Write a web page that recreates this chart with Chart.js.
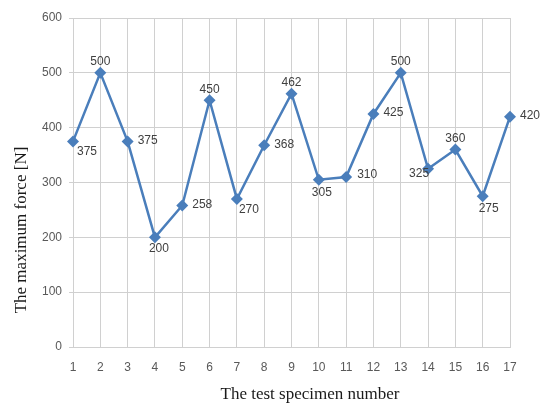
<!DOCTYPE html>
<html>
<head>
<meta charset="utf-8">
<script src="https://cdn.jsdelivr.net/npm/chart.js@4"></script>
<style>
  html, body { margin: 0; padding: 0; background: #fff; }
  #wrap { width: 540px; height: 405px; }
</style>
</head>
<body>
<div id="wrap"><canvas id="chart" width="540" height="405"></canvas></div>
<script>
// Chart data
const specimens = ['1', '2', '3', '4', '5', '6', '7', '8', '9', '10', '11', '12', '13', '14', '15', '16', '17'];
const maxForce = [375, 500, 375, 200, 258, 450, 270, 368, 462, 305, 310, 425, 500, 325, 360, 275, 420];
const yTicks = [0, 100, 200, 300, 400, 500, 600];
const xTitle = 'The test specimen number';
const yTitle = 'The maximum force [N]';

// where each value label sits relative to its marker: [dx, dy, align]
const labelPlacement = [
  [4, 10, 'left'], [0, -11, 'center'], [10, -1, 'left'], [4, 11, 'center'],
  [10, -1, 'left'], [0, -11, 'center'], [2, 11, 'left'], [10, -1, 'left'],
  [0, -11, 'center'], [3, 13, 'center'], [11, -2, 'left'], [10, -1, 'left'],
  [0, -11, 'center'], [1, 5, 'right'], [0, -11, 'center'], [6, 12, 'center'],
  [10, -1, 'left']
];

const lineColor = '#4a7ebb';
const gridColor = '#d0d0d0';
const tickColor = '#595959';

// draws the value labels next to the markers
const valueLabels = {
  id: 'valueLabels',
  afterDatasetsDraw(chart) {
    const ctx = chart.ctx;
    const meta = chart.getDatasetMeta(0);
    ctx.save();
    ctx.font = '12px "Liberation Sans", Arial, sans-serif';
    ctx.fillStyle = '#404040';
    ctx.textBaseline = 'middle';
    meta.data.forEach((pt, i) => {
      const p = labelPlacement[i];
      ctx.textAlign = p[2];
      ctx.fillText(String(maxForce[i]), pt.x + p[0], pt.y + p[1]);
    });
    ctx.restore();
  }
};

// axis titles, placed like the original (not centred on the plot)
const axisTitles = {
  id: 'axisTitles',
  afterDraw(chart) {
    const ctx = chart.ctx;
    ctx.save();
    ctx.font = '17px "Liberation Serif", "Times New Roman", serif';
    ctx.fillStyle = '#1a1a1a';
    ctx.textAlign = 'center';
    ctx.textBaseline = 'middle';
    ctx.fillText(xTitle, 310, 395);
    ctx.translate(22, 230);
    ctx.rotate(-Math.PI / 2);
    ctx.fillText(yTitle, 0, 0);
    ctx.restore();
  }
};

new Chart(document.getElementById('chart'), {
  type: 'line',
  data: {
    labels: specimens,
    datasets: [{
      data: maxForce,
      borderColor: lineColor,
      backgroundColor: lineColor,
      borderWidth: 2.5,
      pointStyle: 'rectRot',
      pointRadius: 6,
      pointHoverRadius: 6,
      pointBorderWidth: 0,
      tension: 0
    }]
  },
  options: {
    responsive: false,
    animation: false,
    layout: { padding: { left: 0, right: 30, top: 18, bottom: 0 } },
    plugins: { legend: { display: false }, tooltip: { enabled: false } },
    scales: {
      x: {
        offset: false,
        grid: { color: gridColor, lineWidth: 1, drawTicks: false },
        border: { color: gridColor },
        ticks: { color: tickColor, font: { family: '"Liberation Sans", Arial, sans-serif', size: 12 }, padding: 13, maxRotation: 0, autoSkip: false },
        afterFit(scale) { scale.height = 58; }
      },
      y: {
        min: 0,
        max: 600,
        afterBuildTicks(scale) { scale.ticks = yTicks.map(v => ({ value: v })); },
        grid: { color: gridColor, lineWidth: 1, tickLength: 4 },
        border: { color: gridColor },
        ticks: { color: tickColor, font: { family: '"Liberation Sans", Arial, sans-serif', size: 12 }, padding: 7 },
        afterFit(scale) { scale.width = 73; }
      }
    }
  },
  plugins: [valueLabels, axisTitles]
});
</script>
</body>
</html>
